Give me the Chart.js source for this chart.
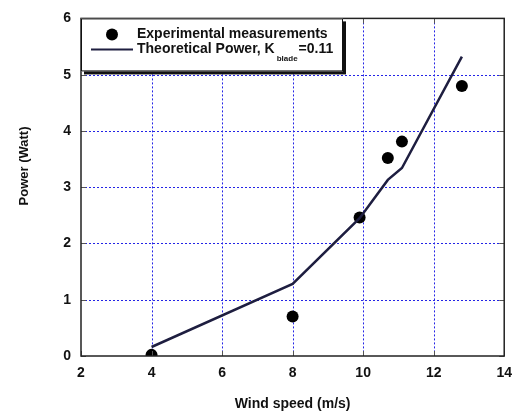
<!DOCTYPE html>
<html>
<head>
<meta charset="utf-8">
<script src="https://cdn.jsdelivr.net/npm/chart.js@4"></script>
<style>
  html, body { margin: 0; padding: 0; background: #fff; }
  canvas { display: block; }
</style>
</head>
<body>
<canvas id="c" width="521" height="414"></canvas>
<script>
// ---- data ----
const expWind = [4, 8, 9.9, 10.7, 11.1, 12.8];
const expPower = [0.02, 0.7, 2.46, 3.52, 3.81, 4.8];
const theoWind = [4, 8, 9.9, 10.7, 11.1, 12.8];
const theoPower = [0.16, 1.28, 2.45, 3.13, 3.34, 5.32];
const xTicks = [2, 4, 6, 8, 10, 12, 14];
const yTicks = [0, 1, 2, 3, 4, 5, 6];
const expLabel = 'Experimental measurements';
const theoLabel = ['Theoretical Power, K', 'blade', '=0.11'];
const xTitle = 'Wind speed (m/s)';
const yTitle = 'Power (Watt)';

const FONT = '"Liberation Sans", Arial, sans-serif';
const LINE_COLOR = '#1e1e40';

const pts = (xs, ys) => xs.map((x, i) => ({ x: x, y: ys[i] }));

const gridPlugin = {
  id: 'dotgrid',
  beforeDatasetsDraw(chart) {
    const { ctx, chartArea: a, scales } = chart;
    ctx.save();
    ctx.strokeStyle = '#2424e6';
    ctx.lineWidth = 1;
    ctx.setLineDash([2, 2]);
    xTicks.slice(1, -1).forEach(v => {
      const px = Math.round(scales.x.getPixelForValue(v)) + 0.5;
      ctx.beginPath();
      ctx.moveTo(px, a.top); ctx.lineTo(px, a.bottom);
      ctx.stroke();
    });
    yTicks.slice(1, -1).forEach(v => {
      const py = Math.round(scales.y.getPixelForValue(v)) + 0.5;
      ctx.beginPath();
      ctx.moveTo(a.left, py); ctx.lineTo(a.right, py);
      ctx.stroke();
    });
    ctx.restore();
  }
};

const framePlugin = {
  id: 'frame',
  afterDraw(chart) {
    const { ctx, chartArea: a, scales } = chart;
    ctx.save();
    // inward ticks on all four sides
    ctx.strokeStyle = '#555';
    ctx.lineWidth = 1;
    const L = 5;
    xTicks.forEach(v => {
      const px = Math.round(scales.x.getPixelForValue(v)) + 0.5;
      ctx.beginPath();
      ctx.moveTo(px, a.bottom); ctx.lineTo(px, a.bottom - L);
      ctx.moveTo(px, a.top); ctx.lineTo(px, a.top + L);
      ctx.stroke();
    });
    yTicks.forEach(v => {
      const py = Math.round(scales.y.getPixelForValue(v)) + 0.5;
      ctx.beginPath();
      ctx.moveTo(a.left, py); ctx.lineTo(a.left + L, py);
      ctx.moveTo(a.right, py); ctx.lineTo(a.right - L, py);
      ctx.stroke();
    });
    // frame
    ctx.strokeStyle = '#222';
    ctx.lineWidth = 1.5;
    ctx.strokeRect(a.left, a.top, a.right - a.left, a.bottom - a.top);

    // legend box inside plot, top-left, with shadow
    const bx = a.left, by = a.top, bw = 262, bh = 53, sh = 3;
    ctx.fillStyle = '#111';
    ctx.fillRect(bx + sh, by + sh, bw, bh);
    ctx.fillStyle = '#fff';
    ctx.fillRect(bx, by, bw, bh);
    ctx.strokeStyle = '#111';
    ctx.lineWidth = 1;
    ctx.strokeRect(bx + 0.5, by + 0.5, bw - 1, bh - 1);

    // entry 1: marker
    ctx.fillStyle = '#000';
    ctx.beginPath();
    ctx.arc(bx + 31, by + 16, 6, 0, Math.PI * 2);
    ctx.fill();
    ctx.font = 'bold 14px ' + FONT;
    ctx.textBaseline = 'middle';
    ctx.textAlign = 'left';
    ctx.fillStyle = '#111';
    ctx.fillText(expLabel, bx + 56, by + 16);
    // entry 2: line
    ctx.strokeStyle = LINE_COLOR;
    ctx.lineWidth = 2;
    ctx.beginPath();
    ctx.moveTo(bx + 10, by + 31); ctx.lineTo(bx + 52, by + 31);
    ctx.stroke();
    ctx.fillText(theoLabel[0], bx + 56, by + 31);
    let w = ctx.measureText(theoLabel[0]).width;
    ctx.font = 'bold 8px ' + FONT;
    ctx.fillText(theoLabel[1], bx + 56 + w + 2, by + 40);
    const w2 = ctx.measureText(theoLabel[1]).width;
    ctx.font = 'bold 14px ' + FONT;
    ctx.fillText(theoLabel[2], bx + 56 + w + 3 + w2, by + 31);

    // y-axis title
    ctx.save();
    ctx.translate(24, 166);
    ctx.rotate(-Math.PI / 2);
    ctx.font = 'bold 13px ' + FONT;
    ctx.textAlign = 'center';
    ctx.textBaseline = 'middle';
    ctx.fillStyle = '#111';
    ctx.fillText(yTitle, 0, 0);
    ctx.restore();
    ctx.restore();
  }
};

new Chart(document.getElementById('c'), {
  type: 'scatter',
  data: {
    datasets: [
      {
        label: theoLabel.join(''),
        data: pts(theoWind, theoPower),
        showLine: true,
        borderColor: LINE_COLOR,
        borderWidth: 2.5,
        pointRadius: 0,
        fill: false,
        tension: 0
      },
      {
        label: expLabel,
        data: pts(expWind, expPower),
        showLine: false,
        pointRadius: 6,
        pointBackgroundColor: '#000',
        pointBorderColor: '#000',
        pointBorderWidth: 0
      }
    ]
  },
  options: {
    responsive: false,
    animation: false,
    layout: { padding: { left: 0, top: 16, right: 12, bottom: 0 } },
    plugins: { legend: { display: false }, tooltip: { enabled: false }, title: { display: false } },
    scales: {
      x: {
        type: 'linear',
        min: 2, max: 14,
        afterBuildTicks: (s) => { s.ticks = xTicks.map(v => ({ value: v })); },
        afterFit: (s) => { s.height = 58; },
        ticks: { font: { family: FONT, size: 14, weight: 'bold' }, color: '#111', padding: 9 },
        grid: { display: false, drawTicks: false },
        border: { display: false },
        title: { display: true, text: xTitle, font: { family: FONT, size: 14, weight: 'bold' }, color: '#111', padding: { top: 0, bottom: 1 } }
      },
      y: {
        type: 'linear',
        min: 0, max: 6,
        afterBuildTicks: (s) => { s.ticks = yTicks.map(v => ({ value: v })); },
        afterFit: (s) => { s.width = 81; },
        ticks: { font: { family: FONT, size: 14, weight: 'bold' }, color: '#111', padding: 10 },
        grid: { display: false, drawTicks: false },
        border: { display: false }
      }
    }
  },
  plugins: [gridPlugin, framePlugin]
});
</script>
</body>
</html>
